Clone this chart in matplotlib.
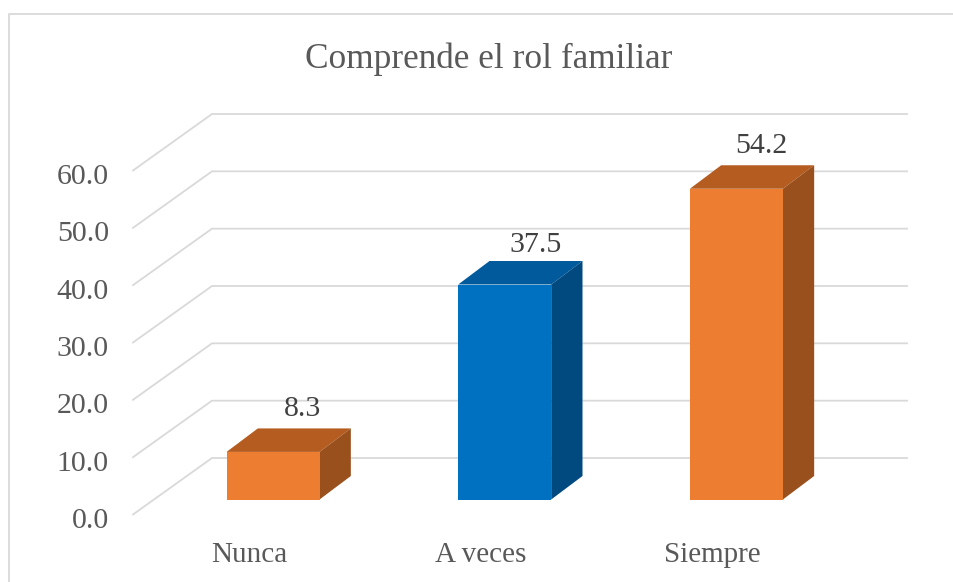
import matplotlib
matplotlib.use('Agg')
import matplotlib.pyplot as plt
from matplotlib.patches import Polygon, Rectangle

categorias = ['Nunca', 'A veces', 'Siempre']
valores = [8.3, 37.5, 54.2]
colores = ['#ED7D31', '#0070C0', '#ED7D31']
colores_top = ['#B55D21', '#005A9B', '#B55D21']
colores_lado = ['#99501C', '#004A80', '#99501C']
ticks = [0, 10, 20, 30, 40, 50, 60]
# desplazamiento de las etiquetas de datos, en px
etiqueta_dx = [29, 31, 25]
etiqueta_dy = [12.5, 9, 12.5]

W, H = 954, 582
plt.rcParams['font.family'] = ['Liberation Serif', 'DejaVu Serif']

fig = plt.figure(figsize=(W / 100, H / 100), dpi=100)
# el eje es el plano frontal del grafico: 0 en y=514.5 px, 60 en y=170.5 px
ax = fig.add_axes([133 / W, 1 - 514.5 / H, 695 / W, 344 / H])
ax.set_xlim(-0.5, 2.5)
ax.set_ylim(0, 60)
ax.axis('off')

# profundidad en unidades de datos
px_x = 695 / 3
px_y = 344 / 60
fondo_x = 79 / px_x
fondo_y = 56.5 / px_y
ancho = 93 / px_x
base_x = 24.2 / px_x - ancho / 2
base_y = 15 / px_y
prof_x = 31.3 / px_x
prof_y = 23.5 / px_y

# rejilla en perspectiva
for t in ticks:
    ax.plot([-0.5, -0.5 + fondo_x, 2.5 + fondo_x], [t, t + fondo_y, t + fondo_y],
            color='#D9D9D9', lw=1.3, clip_on=False, solid_joinstyle='miter', zorder=1)

for i, v in enumerate(valores):
    x0 = i + base_x
    x1 = x0 + ancho
    y0 = base_y
    y1 = y0 + v
    ax.add_patch(Polygon([(x0, y1), (x1, y1), (x1 + prof_x, y1 + prof_y), (x0 + prof_x, y1 + prof_y)],
                         fc=colores_top[i], ec='none', clip_on=False, zorder=3))
    ax.add_patch(Polygon([(x1, y0), (x1 + prof_x, y0 + prof_y), (x1 + prof_x, y1 + prof_y), (x1, y1)],
                         fc=colores_lado[i], ec='none', clip_on=False, zorder=3))
    ax.add_patch(Rectangle((x0, y0), ancho, v, fc=colores[i], ec='none', clip_on=False, zorder=4))
    ax.text(x0 + ancho / 2 + etiqueta_dx[i] / px_x, y1 + prof_y + etiqueta_dy[i] / px_y, '%.1f' % v,
            ha='center', va='baseline', fontsize=21.5, color='#404040', zorder=5)
    ax.text(i, -47.5 / px_y, categorias[i], ha='center', va='baseline', fontsize=21, color='#595959')

for t in ticks:
    ax.text(-0.5 - 24 / px_x, t - 13.5 / px_y, '%.1f' % t, ha='right', va='baseline',
            fontsize=21.5, color='#595959')

fig.text(489 / W, 1 - 59 / H, 'Comprende el rol familiar', ha='center', va='center',
         fontsize=25.4, color='#595959')

# borde del grafico (sin lado derecho ni inferior)
fig.add_artist(plt.Line2D([9.5 / W, 9.5 / W, 1], [0, 1 - 14 / H, 1 - 14 / H],
                          color='#D9D9D9', lw=1.3))

fig.savefig('out.png', dpi=100)
